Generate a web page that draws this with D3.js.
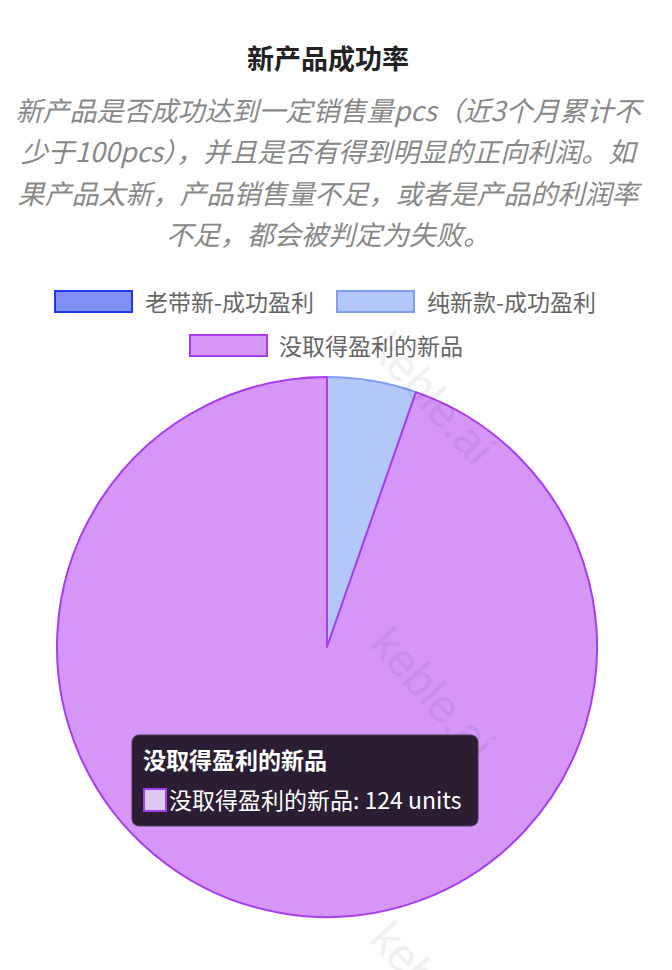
<!DOCTYPE html>
<html><head><meta charset="utf-8">
<script src="https://cdn.jsdelivr.net/npm/d3@7"></script>
<style>
body{margin:0;background:#fff;}
svg{display:block;font-family:"Noto Sans CJK SC","Noto Sans",sans-serif;}
</style></head>
<body>
<svg id="c" width="672" height="970"></svg>
<script>
const categories = ["老带新-成功盈利", "纯新款-成功盈利", "没取得盈利的新品"];
const values = [0, 7, 124];
const fills = ["#8190f5", "#b4c7f9", "#d596f8"];
const strokes = ["#1f35ef", "#7d9ef4", "#a83df0"];
const titleText = "新产品成功率";
const subtitleLines = ["新产品是否成功达到一定销售量pcs（近3个月累计不", "少于100pcs），并且是否有得到明显的正向利润。如", "果产品太新，产品销售量不足，或者是产品的利润率", "不足，都会被判定为失败。"];
const tooltipIndex = 2;
const unit = "units";

const svg = d3.select("#c");

// title
svg.append("text").attr("x", 328).attr("y", 69).attr("text-anchor", "middle")
  .attr("font-size", 27).attr("font-weight", "bold").attr("fill", "#222").text(titleText);
svg.selectAll("text.sub").data(subtitleLines).enter().append("text").attr("class","sub")
  .attr("x", 328).attr("y", (d,i)=>121 + i*41.3).attr("text-anchor","middle")
  .attr("font-size", 27).attr("font-style","italic").attr("fill","#888").text(d=>d);

// legend
const legendPos = [{bx:55, by:291, tx:145}, {bx:337, by:291, tx:427}, {bx:190, by:335, tx:279}];
const lg = svg.selectAll("g.lg").data(categories).enter().append("g").attr("class","lg");
lg.append("rect").attr("x",(d,i)=>legendPos[i].bx).attr("y",(d,i)=>legendPos[i].by)
  .attr("width",77).attr("height",21).attr("fill",(d,i)=>fills[i]).attr("stroke",(d,i)=>strokes[i]).attr("stroke-width",2);
lg.append("text").attr("x",(d,i)=>legendPos[i].tx).attr("y",(d,i)=>legendPos[i].by+20)
  .attr("font-size",23).attr("fill","#666").text(d=>d);

// pie
const cx = 327, cy = 647, R = 270;
const pie = d3.pie().sort(null).value(d=>d)(values);
const arc = d3.arc().innerRadius(0).outerRadius(R);
const g = svg.append("g").attr("transform",`translate(${cx},${cy})`);
g.selectAll("path").data(pie).enter().append("path")
  .attr("d", arc).attr("fill",(d,i)=>fills[i]).attr("stroke",(d,i)=>strokes[i]).attr("stroke-width",2)
  .attr("stroke-linejoin","round");

// watermark
const wm = [[368,350],[368,645],[368,940]];
svg.selectAll("text.wm").data(wm).enter().append("text").attr("class","wm")
  .attr("transform",d=>`translate(${d[0]},${d[1]}) rotate(48)`)
  .attr("font-size",46).attr("fill","#000").attr("opacity",0.055).attr("font-family","Liberation Sans, sans-serif").text("keble.ai");

// tooltip
const tt = svg.append("g");
tt.append("rect").attr("x",132).attr("y",735).attr("width",346).attr("height",91).attr("rx",7)
  .attr("fill","#2b1e33").attr("stroke","#4a3a52").attr("stroke-width",1);
tt.append("text").attr("x",143).attr("y",769).attr("font-size",23).attr("font-weight","bold").attr("fill","#fff").text(categories[tooltipIndex]);
tt.append("rect").attr("x",144).attr("y",789).attr("width",22).attr("height",22).attr("fill","#ddc9f0").attr("stroke",strokes[tooltipIndex]).attr("stroke-width",2);
tt.append("text").attr("x",169).attr("y",809).attr("font-size",23).attr("fill","#fff").text(`${categories[tooltipIndex]}: ${values[tooltipIndex]} ${unit}`);
</script>
</body></html>
